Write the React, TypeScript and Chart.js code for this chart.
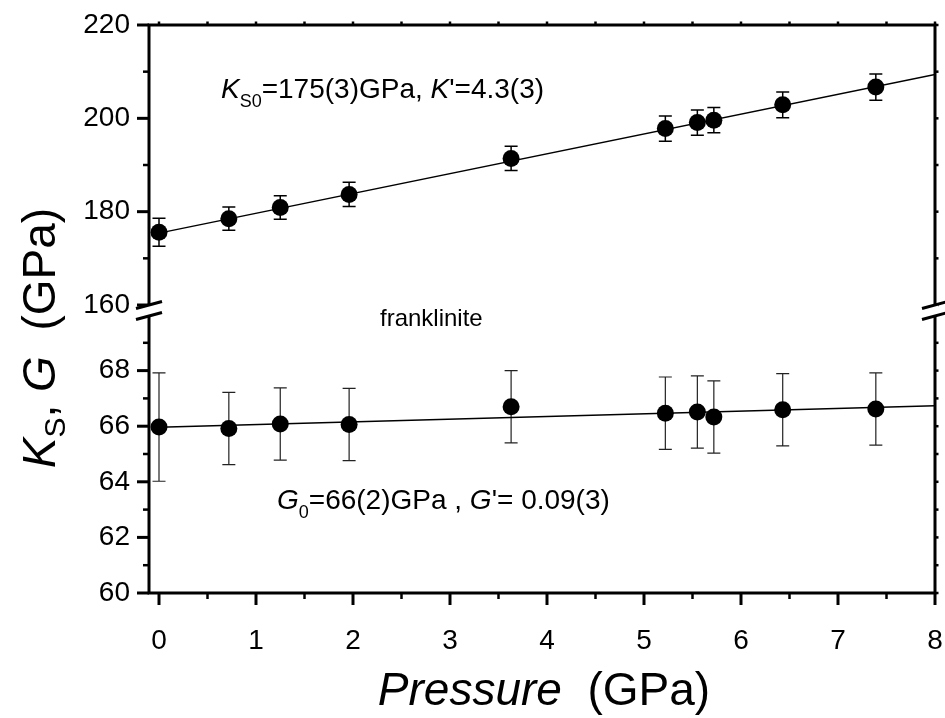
import React, { useEffect, useRef } from 'react';
import { Chart, registerables } from 'chart.js';

Chart.register(...registerables);

// ---------- data ----------
const pressure = [0, 0.72, 1.25, 1.96, 3.63, 5.22, 5.55, 5.72, 6.43, 7.39];
const ksValues = [175.6, 178.5, 180.9, 183.7, 191.4, 197.8, 199.1, 199.6, 202.9, 206.7];
const ksErrors = [3.0, 2.5, 2.5, 2.6, 2.6, 2.7, 2.7, 2.7, 2.75, 2.8];
const gValues = [65.97, 65.92, 66.08, 66.06, 66.7, 66.47, 66.51, 66.33, 66.59, 66.62];
const gErrors = [1.95, 1.3, 1.3, 1.3, 1.3, 1.3, 1.3, 1.3, 1.3, 1.3];
const fitPressure = [0, 8];
const ksFit = [175.4, 209.4];
const gFit = [65.96, 66.74];

const xTicks = [0, 0.5, 1, 1.5, 2, 2.5, 3, 3.5, 4, 4.5, 5, 5.5, 6, 6.5, 7, 7.5, 8];
const xLabelTicks = [0, 1, 2, 3, 4, 5, 6, 7, 8];
const ksTicks = [160, 170, 180, 190, 200, 210, 220];
const ksLabelTicks = [160, 180, 200, 220];
const gTicks = [60, 61, 62, 63, 64, 65, 66, 67, 68, 69];
const gLabelTicks = [60, 62, 64, 66, 68];

const FONT = '"Liberation Sans", Arial, Helvetica, sans-serif';

type Seg = { text: string; font: string; dy?: number; dx?: number; w?: number };

function drawRich(ctx: CanvasRenderingContext2D, segs: Seg[], x: number, y: number, align: 'left' | 'center') {
  let total = 0;
  for (const s of segs) {
    ctx.font = s.font;
    s.w = ctx.measureText(s.text).width;
    total += s.w + (s.dx || 0);
  }
  let cx = align === 'center' ? x - total / 2 : x;
  ctx.textAlign = 'left';
  ctx.textBaseline = 'alphabetic';
  ctx.fillStyle = '#000';
  for (const s of segs) {
    ctx.font = s.font;
    cx += s.dx || 0;
    ctx.fillText(s.text, cx, y + (s.dy || 0));
    cx += s.w || 0;
  }
}

const errorBarPlugin = {
  id: 'errorBars',
  beforeDatasetsDraw(chart: any) {
    const ctx = chart.ctx as CanvasRenderingContext2D;
    const xs = chart.scales.x;
    const draw = (vals: number[], errs: number[], ys: any, lw: number, color: string) => {
      ctx.save();
      ctx.strokeStyle = color;
      ctx.lineWidth = lw;
      vals.forEach((v, i) => {
        const px = xs.getPixelForValue(pressure[i]);
        const top = ys.getPixelForValue(v + errs[i]);
        const bot = ys.getPixelForValue(v - errs[i]);
        ctx.beginPath();
        ctx.moveTo(px, top);
        ctx.lineTo(px, bot);
        ctx.moveTo(px - 6.5, top);
        ctx.lineTo(px + 6.5, top);
        ctx.moveTo(px - 6.5, bot);
        ctx.lineTo(px + 6.5, bot);
        ctx.stroke();
      });
      ctx.restore();
    };
    draw(ksValues, ksErrors, chart.scales.yK, 1.5, '#000');
    draw(gValues, gErrors, chart.scales.yG, 1.2, '#222');
  },
};

const framePlugin = {
  id: 'frame',
  afterDraw(chart: any) {
    const ctx = chart.ctx as CanvasRenderingContext2D;
    const a = chart.chartArea;
    const xs = chart.scales.x;
    const yK = chart.scales.yK;
    const yG = chart.scales.yG;
    ctx.save();
    ctx.strokeStyle = '#000';
    ctx.lineCap = 'butt';
    // frame
    ctx.lineWidth = 3;
    ctx.beginPath();
    ctx.moveTo(a.left, a.top - 1.5);
    ctx.lineTo(a.left, a.bottom + 1.5);
    ctx.moveTo(a.left - 1.5, a.top);
    ctx.lineTo(a.right + 1.5, a.top);
    ctx.moveTo(a.right, a.top - 1.5);
    ctx.lineTo(a.right, a.bottom + 1.5);
    ctx.moveTo(a.left - 1.5, a.bottom);
    ctx.lineTo(a.right + 1.5, a.bottom);
    ctx.stroke();

    // left / right ticks
    const yTick = (scale: any, ticks: number[], labels: number[]) => {
      ticks.forEach((v) => {
        const py = scale.getPixelForValue(v);
        const major = labels.includes(v);
        ctx.lineWidth = major ? 3 : 2.5;
        ctx.beginPath();
        ctx.moveTo(a.left, py);
        ctx.lineTo(a.left - (major ? 12 : 6), py);
        ctx.stroke();
        ctx.lineWidth = 2.5;
        ctx.beginPath();
        ctx.moveTo(a.right, py);
        ctx.lineTo(a.right + 3.5, py);
        ctx.stroke();
      });
    };
    yTick(yK, ksTicks, ksLabelTicks);
    yTick(yG, gTicks, gLabelTicks);

    // bottom / top ticks
    xTicks.forEach((v) => {
      const px = xs.getPixelForValue(v);
      const major = xLabelTicks.includes(v);
      ctx.lineWidth = major ? 3 : 2.5;
      ctx.beginPath();
      ctx.moveTo(px, a.bottom);
      ctx.lineTo(px, a.bottom + (major ? 12 : 6));
      ctx.stroke();
      ctx.lineWidth = 2.5;
      ctx.beginPath();
      ctx.moveTo(px, a.top);
      ctx.lineTo(px, a.top - 3.5);
      ctx.stroke();
    });

    // axis breaks
    const y1 = yK.getPixelForValue(160);
    const y2 = yG.getPixelForValue(70) + 1;
    [a.left, a.right].forEach((x0) => {
      ctx.fillStyle = '#fff';
      ctx.fillRect(x0 - 3, y1, 6, y2 - y1);
      ctx.lineWidth = 3;
      ctx.beginPath();
      ctx.moveTo(x0 - 13, y1 + 3.5);
      ctx.lineTo(x0 + 13, y1 - 3.5);
      ctx.moveTo(x0 - 13, y2 + 3.5);
      ctx.lineTo(x0 + 13, y2 - 3.5);
      ctx.stroke();
    });

    // annotations
    drawRich(ctx, [
      { text: 'K', font: `italic 28px ${FONT}` },
      { text: 'S0', font: `18px ${FONT}`, dy: 9 },
      { text: '=175(3)GPa, ', font: `28px ${FONT}` },
      { text: 'K', font: `italic 28px ${FONT}` },
      { text: "'=4.3(3)", font: `28px ${FONT}` },
    ], 221, 98, 'left');

    drawRich(ctx, [{ text: 'franklinite', font: `24px ${FONT}` }], 380, 326, 'left');

    drawRich(ctx, [
      { text: 'G', font: `italic 28px ${FONT}` },
      { text: '0', font: `18px ${FONT}`, dy: 9 },
      { text: '=66(2)GPa , ', font: `28px ${FONT}` },
      { text: 'G', font: `italic 28px ${FONT}` },
      { text: "'= 0.09(3)", font: `28px ${FONT}` },
    ], 277, 509, 'left');

    // x title
    drawRich(ctx, [
      { text: 'Pressure', font: `italic 46px ${FONT}` },
      { text: '  (GPa)', font: `46px ${FONT}` },
    ], (a.left + a.right) / 2 + 2, 705, 'center');

    // y title
    ctx.save();
    ctx.translate(55, 338);
    ctx.rotate(-Math.PI / 2);
    drawRich(ctx, [
      { text: 'K', font: `italic 46px ${FONT}` },
      { text: 'S', font: `30px ${FONT}`, dy: 10 },
      { text: ', ', font: `46px ${FONT}` },
      { text: 'G', font: `italic 46px ${FONT}` },
      { text: '  (GPa)', font: `46px ${FONT}` },
    ], 0, 0, 'center');
    ctx.restore();

    ctx.restore();
  },
};

const zeroYPad = (s: any) => {
  s.width = 149;
  s.paddingTop = 0;
  s.paddingBottom = 0;
  s.paddingLeft = 0;
  s.paddingRight = 0;
};

export default function App() {
  const ref = useRef<HTMLCanvasElement | null>(null);

  useEffect(() => {
    if (!ref.current) return;
    Chart.defaults.font.family = FONT;
    Chart.defaults.color = '#000';

    const tickFont = { size: 28, family: FONT };

    const chart = new Chart(ref.current, {
      type: 'scatter',
      data: {
        datasets: [
          {
            label: 'Ks fit',
            data: fitPressure.map((p, i) => ({ x: p, y: ksFit[i] })),
            yAxisID: 'yK',
            showLine: true,
            borderColor: '#000',
            borderWidth: 1.5,
            pointRadius: 0,
          },
          {
            label: 'G fit',
            data: fitPressure.map((p, i) => ({ x: p, y: gFit[i] })),
            yAxisID: 'yG',
            showLine: true,
            borderColor: '#000',
            borderWidth: 1.5,
            pointRadius: 0,
          },
          {
            label: 'Ks',
            data: pressure.map((p, i) => ({ x: p, y: ksValues[i] })),
            yAxisID: 'yK',
            pointRadius: 8.5,
            backgroundColor: '#000',
            borderWidth: 0,
          },
          {
            label: 'G',
            data: pressure.map((p, i) => ({ x: p, y: gValues[i] })),
            yAxisID: 'yG',
            pointRadius: 8.5,
            backgroundColor: '#000',
            borderWidth: 0,
          },
        ],
      },
      options: {
        animation: false,
        responsive: false,
        devicePixelRatio: 1,
        layout: { padding: { top: 25, right: 10, left: 0, bottom: 0 } },
        plugins: { legend: { display: false }, tooltip: { enabled: false } },
        scales: {
          yG: {
            type: 'linear',
            position: 'left',
            stack: 'v',
            stackWeight: 283,
            min: 60,
            max: 70.18,
            afterBuildTicks: (s: any) => {
              s.ticks = gTicks.map((v) => ({ value: v }));
            },
            afterFit: zeroYPad,
            ticks: {
              autoSkip: false,
              font: tickFont,
              color: '#000',
              padding: 19,
              callback: (v: any) => (gLabelTicks.includes(Number(v)) ? String(v) : ''),
            },
            grid: { display: false, drawTicks: false },
            border: { display: false },
          },
          yK: {
            type: 'linear',
            position: 'left',
            stack: 'v',
            stackWeight: 285,
            min: 158.93,
            max: 220,
            afterBuildTicks: (s: any) => {
              s.ticks = ksTicks.map((v) => ({ value: v }));
            },
            afterFit: zeroYPad,
            ticks: {
              autoSkip: false,
              font: tickFont,
              color: '#000',
              padding: 19,
              callback: (v: any) => (ksLabelTicks.includes(Number(v)) ? String(v) : ''),
            },
            grid: { display: false, drawTicks: false },
            border: { display: false },
          },
          x: {
            type: 'linear',
            position: 'bottom',
            min: -0.1031,
            max: 8,
            afterBuildTicks: (s: any) => {
              s.ticks = xTicks.map((v) => ({ value: v }));
            },
            afterFit: (s: any) => {
              s.height = 125;
              s.paddingLeft = 0;
              s.paddingRight = 0;
              s.paddingTop = 0;
              s.paddingBottom = 0;
            },
            ticks: {
              autoSkip: false,
              maxRotation: 0,
              font: tickFont,
              color: '#000',
              padding: 31,
              callback: (v: any) => (xLabelTicks.includes(Number(v)) ? String(v) : ''),
            },
            grid: { display: false, drawTicks: false },
            border: { display: false },
          },
        },
      } as any,
      plugins: [errorBarPlugin, framePlugin],
    });

    return () => chart.destroy();
  }, []);

  return (
    <div style={{ position: 'absolute', left: 0, top: 0, width: 945, height: 718, background: '#fff' }}>
      <canvas ref={ref} width={945} height={718} style={{ display: 'block', width: 945, height: 718 }} />
    </div>
  );
}
